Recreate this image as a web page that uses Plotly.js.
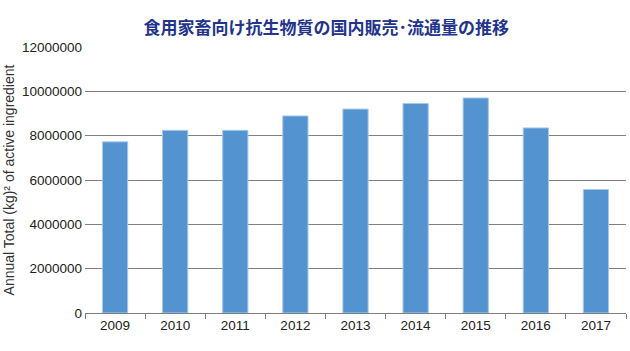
<!DOCTYPE html>
<html>
<head>
<meta charset="utf-8">
<script src="https://cdn.plot.ly/plotly-3.0.1.min.js"></script>
<style>html,body{margin:0;padding:0;background:#fff;}#chart{width:630px;height:351px;}</style>
</head>
<body>
<div id="chart"></div>
<script>
var years = ["2009","2010","2011","2012","2013","2014","2015","2016","2017"];
var totals = [7720000, 8240000, 8240000, 8890000, 9200000, 9450000, 9700000, 8350000, 5570000];
var yTicks = [0, 2000000, 4000000, 6000000, 8000000, 10000000, 12000000];

var trace = {
  type: "bar",
  x: years,
  y: totals,
  marker: {color: "#5393cf", line: {color: "#a8c8ea", width: 1}},
  width: 0.42,
  hoverinfo: "x+y"
};

var layout = {
  width: 630, height: 351,
  margin: {l: 85, r: 4, t: 47, b: 38},
  paper_bgcolor: "#fff", plot_bgcolor: "#fff",
  showlegend: false,
  title: {
    text: "食用家畜向け抗生物質の国内販売･流通量の推移",
    font: {family: "Noto Sans CJK JP", size: 17, color: "#22348c", weight: 700},
    x: 0.518, xanchor: "center", y: 0.92, yanchor: "middle"
  },
  xaxis: {
    type: "category",
    showline: true, linecolor: "#7f7f7f", linewidth: 1,
    ticks: "outside", tickson: "boundaries", ticklen: 5, tickcolor: "#7f7f7f",
    showgrid: false,
    tickfont: {family: "Liberation Sans, Arial, sans-serif", size: 13.5, color: "#222"}
  },
  yaxis: {
    range: [0, 12000000],
    tickvals: yTicks,
    ticktext: yTicks.map(function(v){return String(v);}),
    showgrid: true, gridcolor: "#808080", gridwidth: 1,
    zeroline: false, showline: false, ticks: "",
    ticklabelstandoff: 2,
    tickfont: {family: "Liberation Sans, Arial, sans-serif", size: 13.5, color: "#222"},
    title: {text: "Annual Total (kg)² of active ingredient",
            font: {family: "Liberation Sans, Arial, sans-serif", size: 14, color: "#333"},
            standoff: 4}
  }
};

Plotly.newPlot("chart", [trace], layout, {displayModeBar: false, staticPlot: true});
</script>
</body>
</html>
